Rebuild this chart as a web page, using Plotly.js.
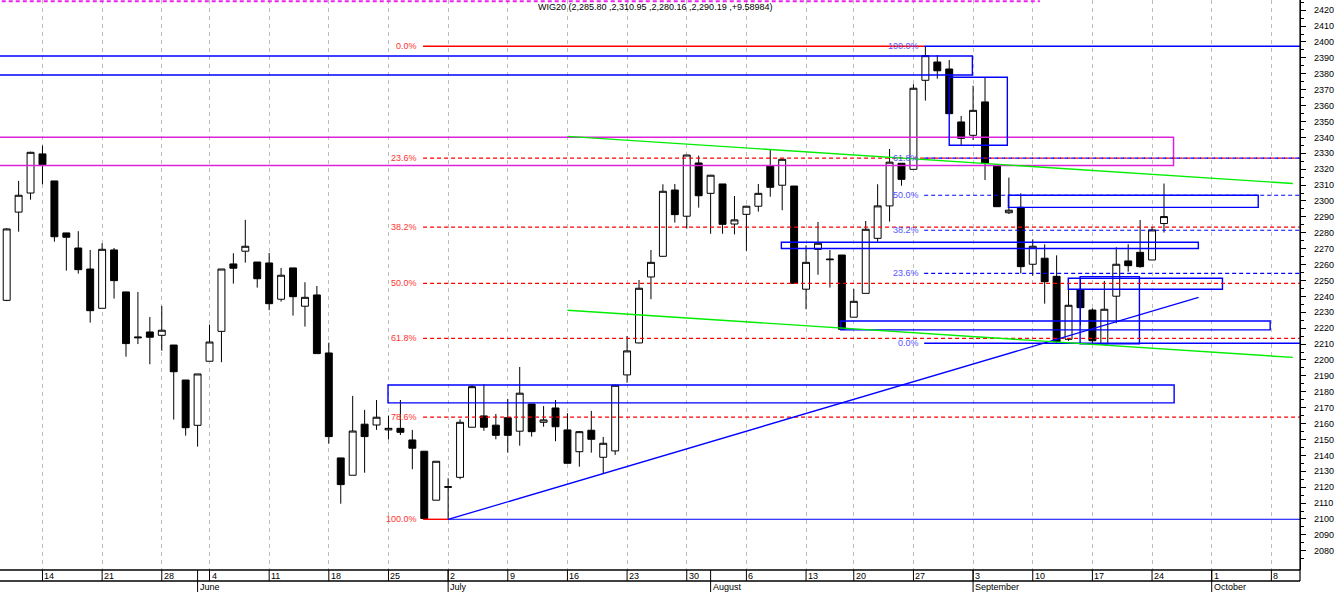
<!DOCTYPE html>
<html><head><meta charset="utf-8">
<script src="https://cdn.plot.ly/plotly-3.0.1.min.js"></script>
<style>html,body{margin:0;padding:0;background:#fff;overflow:hidden}#chart{width:1336px;height:592px}</style>
</head><body><div id="chart"></div>
<script>
// ---- candle data (trading-day index = position in arrays) ----
const openV = [2237.5,2293,2305,2329.6,2312.6,2279.9,2270.4,2257.2,2232.5,2269.2,
 2242.8,2214.5,2217.6,2215.5,2209.4,2187.4,2158.9,2199.2,2218,2260.4,
 2268.4,2261.6,2261,2238.2,2257.9,2233.8,2240.9,2204.4,2138.4,2127.5,
 2159.6,2159.1,2156,2157,2149.7,2142.6,2111.8,2120.3,2126.2,2157.7,
 2164.8,2159,2163.7,2155.2,2172.3,2160.8,2169.8,2156,2142.3,2155.8,
 2138.8,2142.8,2190.6,2210.7,2252.2,2265.2,2306.9,2290.4,2323.9,2304.8,
 2310.7,2285.5,2291.6,2296.7,2322.2,2309.9,2309.4,2244.5,2269.6,2263.5,
 2266,2226.9,2241.9,2276.5,2296.9,2323.7,2319.9,2375.9,2387.4,2383,
 2349.7,2341.3,2362.3,2322.5,2292.6,2296,2260.2,2264,2252.6,2213,
 2244,2231.4,2210.1,2240.1,2262.3,2267.7,2262.9,2285.80];
const highV = [2283,2312.6,2331,2334.8,2312.6,2280,2281,2269.2,2273.4,2270.4,
 2242.8,2242.8,2227,2234,2209.4,2187.4,2191.2,2222.2,2257.2,2267.1,
 2288.1,2261.6,2267.3,2257.9,2257.9,2248.9,2246.5,2210.9,2138.4,2177.4,
 2168.6,2174.8,2165,2174.8,2156,2142.6,2136.3,2125.6,2162.7,2184.3,
 2184.7,2166,2175.5,2195.6,2172.3,2171,2174.8,2166.5,2155.3,2168,
 2151.6,2184.5,2215.1,2250.3,2269.2,2310.5,2310.7,2329,2328.5,2316.4,
 2310.7,2303.1,2297,2310.7,2332.1,2326.5,2309.4,2272.1,2286.8,2269.2,
 2266,2244.7,2287.4,2310.5,2332.7,2323.7,2373.4,2397.5,2391.8,2388.7,
 2353.5,2372.5,2377.5,2323,2314.7,2304.8,2275.9,2272.7,2265.8,2250.9,
 2250.9,2232.5,2249.7,2270.9,2272.8,2288,2283.8,2310.95];
const lowV = [2237,2280.7,2300.8,2310.5,2274.4,2256.2,2254.3,2223.5,2232.5,2238.6,
 2202.1,2210,2197.3,2205.8,2162.5,2152.4,2145.5,2199.2,2198.6,2248,
 2261.2,2245.5,2231.3,2236.7,2227.9,2221,2204,2147.4,2109.6,2127.5,
 2129.1,2156,2150,2152.8,2131.3,2099.5,2111.8,2099.4,2125,2157.7,
 2155.5,2150.1,2141.7,2146.1,2151.8,2158,2148.9,2135,2132.9,2141.7,
 2128.7,2140.3,2185.7,2210.5,2238.2,2265,2286.4,2282.6,2295.8,2279.4,
 2279.4,2279,2268.7,2293.3,2302.7,2294.2,2248.2,2231.9,2253.6,2245.5,
 2219,2226.9,2241.9,2274.4,2287,2309.6,2319.9,2363.1,2376.9,2354.9,
 2335,2338.4,2313.2,2296.4,2291.8,2254.5,2253,2235.4,2210.5,2212,
 2222,2210.5,2210,2223.1,2255.5,2258,2262.9,2280.16];
const closeV = [2282.4,2303.6,2330.6,2322.8,2277.5,2277.2,2256.8,2231,2269.6,2249.9,
 2210.3,2214,2214.3,2218.7,2192.6,2157.4,2191.2,2211.3,2257.2,2257.7,
 2271.5,2251.1,2235.4,2253.3,2239.8,2239.4,2204,2151.8,2121.6,2155.3,
 2151.8,2164,2157,2154.5,2144.5,2100.3,2136.3,2120,2160.8,2183.2,
 2157.7,2152.6,2152.6,2179.1,2154.9,2162.3,2158,2135,2154.9,2150.1,
 2147.6,2184.1,2205.7,2245.1,2261.4,2306.1,2291.4,2328.9,2303.3,2316.2,
 2285.3,2288.1,2296.7,2304.8,2308.6,2326.2,2248.2,2261.4,2273.4,2263.1,
 2219.3,2236.9,2282.2,2296.9,2324.4,2313.6,2370.9,2391.4,2381.9,2354.9,
 2339.4,2357,2323.7,2296.4,2294.2,2258.7,2271.5,2249.2,2211.5,2234.4,
 2232.9,2212.1,2231.9,2260.2,2259.3,2258.7,2281.8,2290.19];

// ---- axis labels ----
const dayTickIdx = [3,8,13,17,22,27,32,37,42,47,52,57,62,67,71,76,81,86,91,96,101,106];
const dayTickLabels = ['14','21','28','4','11','18','25','2','9','16','23','30','6','13','20','27','3','10','17','24','1','8'];
const monthIdx = [16,37,59,81,101];
const monthLabels = ['June','July','August','September','October'];
const priceTicks = [2080,2090,2100,2110,2120,2130,2140,2150,2160,2170,2180,2190,2200,2210,2220,2230,2240,2250,
 2260,2270,2280,2290,2300,2310,2320,2330,2340,2350,2360,2370,2380,2390,2400,2410,2420];

// ---- Fibonacci levels ----
const redFibLabels = ['0.0%','23.6%','38.2%','50.0%','61.8%','78.6%','100.0%'];
const redFibLevels = [2397.3,2327.0,2283.5,2248.2,2213.6,2164.0,2099.8];
const blueFibLabels = ['100.0%','61.8%','50.0%','38.2%','23.6%','0.0%'];
const blueFibLevels = [2397.3,2326.9,2303.6,2281.6,2254.5,2210.5];

// ---- drawn objects (index / price) ----
const blueRectX0 = [-1,31.96,64.93,83.96,88.98,69.9,89.97,79.0];
const blueRectX1 = [80.94,97.85,99.88,104.9,101.9,105.9,94.94,83.87];
const blueRectY0 = [2379.2,2173.0,2270.1,2296.0,2244.5,2218.9,2210.1,2335.0];
const blueRectY1 = [2391.2,2184.3,2274.0,2303.6,2251.4,2224.5,2252.4,2377.8];
const magentaRect = {x0:-1, x1:97.8, y0:2322.3, y1:2340.1};
const greenUpper = {x0:47, y0:2340.6, x1:107.8, y1:2311.0};
const greenLower = {x0:47, y0:2231.3, x1:107.8, y1:2201.6};
const blueTrend = {x0:37, y0:2099.7, x1:99.9, y1:2239.4};
const lowLine = {x0:37, y:2099.8};
const topDashed = {x0:-1, x1:86.6, y:2425.6};

const XMIN = -0.56, XMAX = 108.4, YMIN = 2067.9, YMAX = 2426.4;
const FONT = 'Liberation Sans, Arial, sans-serif';
const RED = '#ff0000', BLUE = '#0000ff';

const xs = openV.map((_, i) => i);
const shapes = [];
const annotations = [];

function line(x0,y0,x1,y1,color,width,dash){
  shapes.push({type:'line',xref:'x',yref:'y',x0,y0,x1,y1,line:{color,width,dash:dash||'solid'},layer:'above'});
}
// magenta rectangle & top dashed
shapes.push({type:'rect',xref:'x',yref:'y',x0:magentaRect.x0,x1:magentaRect.x1,y0:magentaRect.y0,y1:magentaRect.y1,line:{color:'#dd22dd',width:1.5},layer:'above'});
line(topDashed.x0,topDashed.y,topDashed.x1,topDashed.y,'#ee22ee',2,'4px,3px');
// blue rects
for(let i=0;i<blueRectX0.length;i++){
  shapes.push({type:'rect',xref:'x',yref:'y',x0:blueRectX0[i],x1:blueRectX1[i],y0:blueRectY0[i],y1:blueRectY1[i],line:{color:BLUE,width:1.4},layer:'above'});
}
// red fib
const redStart = 34.9, redTop = 76.9;
redFibLevels.forEach((v,i)=>{
  if(i===0) line(redStart,v,redTop,v,RED,1.4);
  else if(i===redFibLevels.length-1) line(redStart,v,37,v,RED,1.4);
  else line(redStart,v,XMAX,v,RED,1.2,'4px,3px');
  annotations.push({xref:'x',yref:'y',x:34.55,y:v,text:redFibLabels[i],showarrow:false,xanchor:'right',yanchor:'middle',font:{family:FONT,size:9,color:'#ff3333'}});
});
// blue fib
const blueStart = 76.9;
blueFibLevels.forEach((v,i)=>{
  if(i===0 || i===blueFibLevels.length-1) line(blueStart,v,XMAX,v,BLUE,1.4);
  else line(blueStart,v,XMAX,v,BLUE,1.2,'4px,3px');
  annotations.push({xref:'x',yref:'y',x:76.6,y:v,text:blueFibLabels[i],showarrow:false,xanchor:'right',yanchor:'middle',font:{family:FONT,size:9,color:'#5555ff'}});
});
// low line, trend lines
line(lowLine.x0,lowLine.y,XMAX,lowLine.y,BLUE,1);
line(blueTrend.x0,blueTrend.y0,blueTrend.x1,blueTrend.y1,BLUE,1.3);
line(greenUpper.x0,greenUpper.y0,greenUpper.x1,greenUpper.y1,'#00ee00',1.4);
line(greenLower.x0,greenLower.y0,greenLower.x1,greenLower.y1,'#00ee00',1.4);

// bottom axis area (paper coords)
const PH = 570;
const row1 = -11/PH, row2 = -22/PH;
shapes.push({type:'line',xref:'paper',yref:'paper',x0:0,x1:1,y0:0,y1:0,line:{color:'#000',width:1.5}});
shapes.push({type:'line',xref:'paper',yref:'paper',x0:0,x1:1,y0:row1,y1:row1,line:{color:'#000',width:1.5}});
shapes.push({type:'line',xref:'paper',yref:'paper',x0:1,x1:1,y0:row1,y1:1,line:{color:'#000',width:1.2}});
dayTickIdx.forEach((d,i)=>{
  shapes.push({type:'line',xref:'x',yref:'paper',x0:d,x1:d,y0:0,y1:row1,line:{color:'#000',width:1}});
  annotations.push({xref:'x',yref:'paper',x:d,y:row1/2,text:dayTickLabels[i],showarrow:false,xanchor:'left',yanchor:'middle',xshift:0,font:{family:FONT,size:9,color:'#000'}});
});
monthIdx.forEach((m,i)=>{
  shapes.push({type:'line',xref:'x',yref:'paper',x0:m,x1:m,y0:0,y1:row2,line:{color:'#000',width:1}});
  annotations.push({xref:'x',yref:'paper',x:m,y:(row1+row2)/2,text:monthLabels[i],showarrow:false,xanchor:'left',yanchor:'middle',xshift:0,font:{family:FONT,size:9,color:'#000'}});
});
// title
annotations.push({xref:'paper',yref:'paper',x:536/1300,y:1-7/PH,text:'WIG20 (2,285.80 ,2,310.95 ,2,280.16 ,2,290.19 ,+9.58984)',showarrow:false,xanchor:'left',yanchor:'middle',font:{family:FONT,size:9,color:'#000'}});

const trace = {
  type:'candlestick', x:xs, open:openV, high:highV, low:lowV, close:closeV,
  increasing:{line:{color:'#000',width:1},fillcolor:'#ffffff'},
  decreasing:{line:{color:'#000',width:1},fillcolor:'#000000'},
  whiskerwidth:0, hoverinfo:'none', showlegend:false
};

const layout = {
  width:1336, height:592,
  margin:{l:0,r:36,t:0,b:22,pad:0},
  paper_bgcolor:'#fff', plot_bgcolor:'#fff',
  showlegend:false, boxgap:0.17,
  xaxis:{range:[XMIN,XMAX], rangeslider:{visible:false}, tickmode:'array', tickvals:dayTickIdx,
    showticklabels:false, ticks:'', showgrid:true, gridcolor:'#bdbdbd', gridwidth:1, griddash:'4px,4px',
    zeroline:false, showline:false, fixedrange:true},
  yaxis:{side:'right', range:[YMIN,YMAX], tickmode:'array', tickvals:priceTicks, ticktext:priceTicks.map(String),
    ticks:'outside', ticklen:5, tickcolor:'#000', ticklabelstandoff:6,
    showline:true, linecolor:'#000', linewidth:1.2, showgrid:false, zeroline:false,
    tickfont:{family:FONT,size:9,color:'#000'},
    minor:{tickmode:'linear', tick0:2005, dtick:10, ticks:'outside', ticklen:3, tickcolor:'#000', showgrid:false}, fixedrange:true},
  shapes, annotations
};
Plotly.newPlot('chart',[trace],layout,{staticPlot:true,displayModeBar:false});
</script>
</body></html>
